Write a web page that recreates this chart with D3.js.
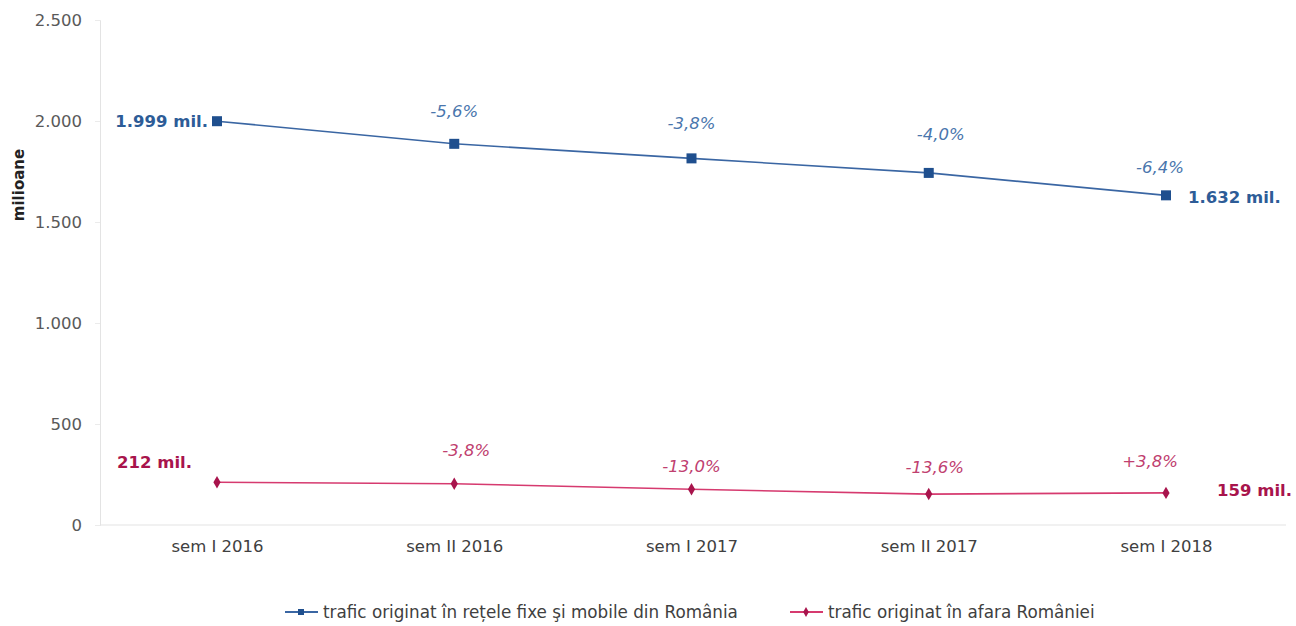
<!DOCTYPE html>
<html><head><meta charset="utf-8">
<script src="https://cdn.jsdelivr.net/npm/d3@7"></script>
<style>
body{margin:0;background:#fff;}
text{font-family:"DejaVu Sans",Verdana,sans-serif;}
</style></head>
<body>
<svg id="c" width="1296" height="626"></svg>
<script>
const categories = ["sem I 2016","sem II 2016","sem I 2017","sem II 2017","sem I 2018"];
const domestic = [1999, 1887, 1815, 1743, 1632];
const foreign = [212, 204, 177, 153, 159];
const domesticChange = [null, "-5,6%", "-3,8%", "-4,0%", "-6,4%"];
const foreignChange = [null, "-3,8%", "-13,0%", "-13,6%", "+3,8%"];
const yTicks = [0, 500, 1000, 1500, 2000, 2500];
const yTickLabels = ["0","500","1.000","1.500","2.000","2.500"];
const seriesNames = ["trafic originat în rețele fixe şi mobile din România","trafic originat în afara României"];

const svg = d3.select("#c");
const x = d3.scalePoint().domain(categories).range([217, 1166]);
const y = d3.scaleLinear().domain([0, 2500]).range([525, 20]);

// axes
const yAxis = svg.append("g").attr("transform","translate(100,0)")
  .call(d3.axisLeft(y).tickValues(yTicks).tickFormat((d,i)=>yTickLabels[i]).tickSize(5).tickPadding(13));
yAxis.select(".domain").attr("stroke","#e3e3e3");
yAxis.selectAll(".tick line").attr("stroke","#ebebeb");
yAxis.selectAll(".tick text").attr("fill","#595959").attr("font-size","16.5px");

svg.append("line").attr("x1",100).attr("x2",1286).attr("y1",y(0)).attr("y2",y(0)).attr("stroke","#e3e3e3");
const xAxis = svg.append("g").attr("transform","translate(0,525)")
  .call(d3.axisBottom(x).tickSize(0).tickPadding(15));
xAxis.select(".domain").remove();
xAxis.selectAll(".tick text").attr("fill","#404040").attr("font-size","16.5px");

svg.append("text").attr("transform","translate(19,185) rotate(-90)").attr("text-anchor","middle")
  .attr("dominant-baseline","central")
  .attr("font-size","15px").attr("font-weight","bold").attr("fill","#222").text("milioane");

const blue = "#2d5c97", blueLine = "#3a66a3", red = "#a8144c", redLine = "#d63a6f";
const line = d3.line().x((d,i)=>x(categories[i])).y(d=>y(d));

svg.append("path").datum(domestic).attr("d",line).attr("fill","none").attr("stroke",blueLine).attr("stroke-width",1.6);
svg.append("path").datum(foreign).attr("d",line).attr("fill","none").attr("stroke",redLine).attr("stroke-width",1.6);

svg.selectAll(".bm").data(domestic).join("rect")
  .attr("x",(d,i)=>x(categories[i])-5).attr("y",d=>y(d)-5).attr("width",10).attr("height",10).attr("fill","#1f4f8e");
const diamond = d3.symbol().type(d3.symbolDiamond).size(45);
svg.selectAll(".rm").data(foreign).join("path")
  .attr("transform",(d,i)=>`translate(${x(categories[i])},${y(d)})`).attr("d",diamond).attr("fill",red);

// end labels
function endLabel(tx, ty, anchor, col, txt){
  svg.append("text").attr("x",tx).attr("y",ty).attr("text-anchor",anchor).attr("dominant-baseline","central")
    .attr("font-size","16.5px").attr("font-weight","bold").attr("fill",col).text(txt);
}
endLabel(x(categories[0])-9, y(domestic[0]), "end", blue, "1.999 mil.");
endLabel(x(categories[4])+22, y(domestic[4])+2, "start", blue, "1.632 mil.");
endLabel(x(categories[0])-25, y(foreign[0])-20, "end", red, "212 mil.");
endLabel(x(categories[4])+51, y(foreign[4])-2, "start", red, "159 mil.");

// change labels
const bOff = [0, 0, 0, 12, -6];
const bDy = [0, -32, -35, -38, -28];
svg.selectAll(".bc").data(domesticChange).join("text")
  .filter(d=>d).attr("x",(d,i)=>x(categories[i+1])+bOff[i+1]).attr("y",(d,i)=>y(domestic[i+1])+bDy[i+1])
  .attr("dominant-baseline","central")
  .attr("text-anchor","middle").attr("font-size","16.5px").attr("font-style","italic").attr("fill","#4a76ad").text(d=>d);
const rOff = [0, 12, 0, 6, -16];
const rDy = [0, -33, -23, -27, -31];
svg.selectAll(".rc").data(foreignChange).join("text")
  .filter(d=>d).attr("x",(d,i)=>x(categories[i+1])+rOff[i+1]).attr("y",(d,i)=>y(foreign[i+1])+rDy[i+1])
  .attr("dominant-baseline","central")
  .attr("text-anchor","middle").attr("font-size","16.5px").attr("font-style","italic").attr("fill","#c0406f").text(d=>d);

// legend
const leg = [{x:285, c:blueLine, m:"sq", fill:"#1f4f8e"},{x:790, c:redLine, m:"di", fill:red}];
leg.forEach((l,i)=>{
  const g = svg.append("g");
  g.append("line").attr("x1",l.x).attr("x2",l.x+33).attr("y1",612).attr("y2",612).attr("stroke",l.c).attr("stroke-width",2);
  if(l.m==="sq") g.append("rect").attr("x",l.x+13).attr("y",609).attr("width",6).attr("height",6).attr("fill",l.fill);
  else g.append("path").attr("transform",`translate(${l.x+16},612)`).attr("d",d3.symbol().type(d3.symbolDiamond).size(28)).attr("fill",l.fill);
  g.append("text").attr("x",l.x+38).attr("y",612).attr("dominant-baseline","central")
    .attr("font-size","16.8px").attr("fill","#404040").text(seriesNames[i]);
});
</script>
</body></html>
